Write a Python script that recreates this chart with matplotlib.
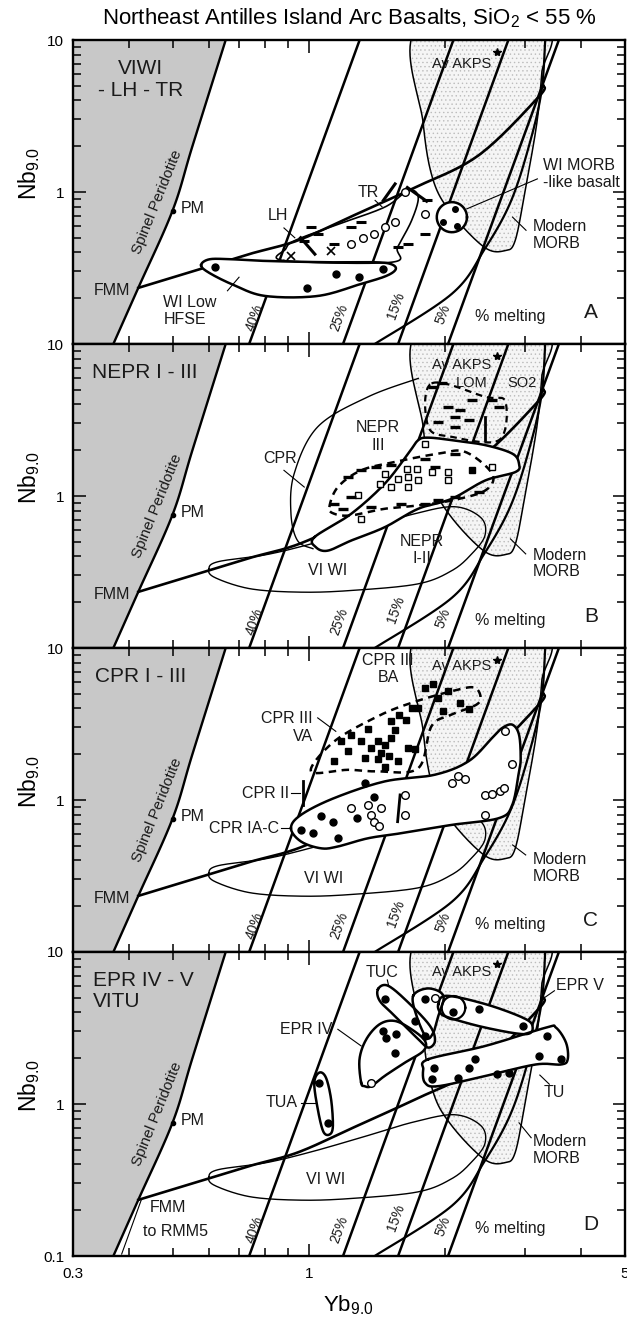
import numpy as np
import matplotlib
matplotlib.use('Agg')
import matplotlib.pyplot as plt

plt.rcParams['font.family'] = ['Liberation Sans', 'DejaVu Sans']
plt.rcParams['mathtext.fontset'] = 'custom'
plt.rcParams['mathtext.rm'] = 'Liberation Sans'
plt.rcParams['mathtext.it'] = 'Liberation Sans'
plt.rcParams['hatch.linewidth'] = 0.5

### Shared model curves (Yb9.0, Nb9.0)
spinel_yb = [0.369, 0.419, 0.499, 0.552, 0.654]
spinel_nb = [0.1, 0.234, 0.755, 2.0, 10.0]
fmm_yb, fmm_nb = 0.419, 0.234
pm_yb, pm_nb = 0.499, 0.755

trend_yb = [0.419, 0.600, 0.743, 0.944, 1.24, 1.69, 2.37, 3.22, 3.30]
trend_nb = [0.234, 0.324, 0.393, 0.480, 0.69, 1.05, 1.74, 4.22, 5.0]

melt_labels = ['40%', '25%', '15%', '5%']
melt_yb_low = [0.737, 1.189, 1.574, 2.03]     # at Nb = 0.1
melt_yb_high = [1.294, 2.086, 2.76, 3.57]     # at Nb = 10
melt_label_yb = [0.756, 1.167, 1.56, 1.982]
melt_label_nb = [0.15, 0.15, 0.178, 0.157]

curve_yb = [1.397, 2.07, 2.445, 2.80, 3.09, 3.27, 3.33]
curve_nb = [0.1, 0.214, 0.42, 0.877, 2.19, 4.68, 10.0]

morb_yb = [1.743, 1.789, 1.883, 2.07, 2.445, 2.71, 2.857, 3.006, 3.19, 3.27, 3.30]
morb_nb = [12.0, 2.82, 1.19, 0.718, 0.432, 0.411, 0.478, 1.02, 2.82, 6.02, 12.0]
akps_yb, akps_nb = 2.60, 8.37

viwi_yb = [0.60, 0.63, 0.80, 1.0, 1.3, 1.7, 2.1, 2.4, 2.45, 2.29, 2.07, 1.74, 1.24, 0.96, 0.743, 0.62]
viwi_nb = [0.331, 0.37, 0.41, 0.48, 0.60, 0.76, 0.85, 0.72, 0.55, 0.416, 0.323, 0.264, 0.239, 0.233, 0.245, 0.29]

### Panel A: VIWI - LH - TR
a_low_yb = [0.577, 0.60, 0.66, 0.80, 1.10, 1.40, 1.52, 1.555, 1.48, 1.30, 1.045, 0.80, 0.68, 0.60]
a_low_nb = [0.33, 0.36, 0.362, 0.352, 0.345, 0.345, 0.335, 0.31, 0.28, 0.248, 0.207, 0.207, 0.245, 0.295]
a_lh_yb = [0.880, 0.888, 0.93, 1.137, 1.470, 1.657, 1.744, 1.686, 1.57, 1.52]
a_lh_nb = [0.354, 0.422, 0.479, 0.601, 0.795, 1.024, 0.925, 0.649, 0.433, 0.345]
a_dots_yb = [0.62, 0.99, 1.146, 1.29, 1.46]
a_dots_nb = [0.32, 0.233, 0.289, 0.275, 0.31]
a_open_yb = [1.239, 1.315, 1.39, 1.47, 1.547, 1.629, 1.805]
a_open_nb = [0.455, 0.50, 0.53, 0.587, 0.633, 1.0, 0.72]
a_cross_yb = [1.117, 0.912]
a_cross_nb = [0.412, 0.382]
a_dash_yb = [0.976, 1.045, 1.137, 1.239, 1.304, 1.57, 1.657, 1.805, 1.82, 1.01]
a_dash_nb = [0.479, 0.53, 0.455, 0.587, 0.633, 0.433, 0.455, 0.53, 0.88, 0.587]
a_bar_yb = [[0.958, 1.03], [1.46, 1.55], [1.65, 1.82]]
a_bar_nb = [[0.50, 0.39], [0.88, 1.13], [1.07, 0.87]]
a_mlb_yb, a_mlb_nb = 2.07, 0.683          # WI MORB-like basalt circle
a_mlb_dots_yb = [2.104, 1.982, 2.12]
a_mlb_dots_nb = [0.775, 0.633, 0.60]

### Panel B: NEPR I - III
b_n12_yb = [1.028, 1.239, 1.470, 1.657, 1.744, 1.836, 2.069, 2.456, 2.816, 2.914, 2.864, 2.456, 2.069, 1.744, 1.470, 1.239, 1.10, 1.036]
b_n12_nb = [0.536, 0.763, 1.204, 1.90, 2.33, 2.42, 2.33, 2.16, 1.90, 1.63, 1.44, 1.267, 0.959, 0.824, 0.623, 0.509, 0.437, 0.46]
b_n3_yb = [1.109, 1.158, 1.304, 1.547, 1.932, 2.216, 2.541, 2.456, 2.069, 1.744, 1.470, 1.239, 1.137]
b_n3_nb = [0.845, 1.145, 1.475, 1.674, 1.90, 1.95, 1.402, 1.089, 0.935, 0.867, 0.824, 0.745, 0.764]
b_lom_yb = [1.866, 2.456, 2.72, 2.631, 2.069, 1.836]
b_lom_nb = [5.50, 4.49, 4.16, 2.33, 2.45, 2.85]
b_cpr_yb = [1.744, 1.350, 1.045, 0.927, 0.912, 0.943, 1.02]
b_cpr_nb = [5.94, 4.49, 2.85, 1.402, 0.764, 0.509, 0.45]
b_sq_yb = [1.282, 1.470, 1.57, 1.657, 1.729, 1.744, 1.643, 1.433, 2.034, 2.034, 2.541, 1.805, 1.304, 1.52, 1.866, 1.657]
b_sq_nb = [1.009, 1.402, 1.30, 1.333, 1.513, 1.267, 1.513, 1.204, 1.44, 1.267, 1.552, 2.21, 0.708, 1.145, 1.44, 1.145]
b_dash_yb = [1.137, 1.187, 1.22, 1.304, 1.408, 1.52, 1.601, 1.805, 1.932, 2.104, 2.374, 1.805, 2.104, 1.899, 1.239, 1.373]
b_dash_nb = [0.889, 0.824, 1.333, 1.475, 1.552, 1.591, 0.889, 0.889, 0.935, 0.984, 1.061, 1.76, 1.90, 1.552, 0.984, 0.845]
b_lomdash_yb = [1.883, 1.965, 2.034, 2.104, 2.254, 2.293, 2.541, 2.631, 2.104, 1.932, 2.16]
b_lomdash_nb = [5.23, 5.50, 3.86, 3.32, 3.15, 4.27, 4.27, 3.86, 2.85, 3.07, 3.67]
b_fsq_yb, b_fsq_nb = 2.293, 1.475
b_bar_yb = [[2.456, 2.456]]
b_bar_nb = [[2.33, 3.32]]

### Panel C: CPR I - III
c_ia_yb = [0.912, 0.960, 1.137, 1.470, 1.899, 2.254, 2.541, 2.676, 2.816, 2.914, 2.939, 2.914, 2.816, 2.631, 2.069, 1.601, 1.350, 1.157, 1.063, 0.960]
c_ia_nb = [0.652, 0.799, 1.03, 1.325, 1.467, 1.80, 2.56, 2.98, 3.13, 2.69, 1.89, 1.543, 0.93, 0.76, 0.686, 0.605, 0.560, 0.494, 0.481, 0.533]
c_iii_yb = [1.01, 1.137, 1.421, 1.686, 2.069, 2.33, 2.374, 2.069, 1.866, 1.744, 1.421, 1.22]
c_iii_nb = [1.543, 2.43, 3.56, 4.36, 5.20, 5.47, 4.36, 3.65, 3.06, 1.62, 1.543, 1.58]
c_d3_yb = [1.178, 1.239, 1.22, 1.137, 1.304, 1.350, 1.373, 1.42, 1.44, 1.47, 1.50, 1.52, 1.547, 1.57, 1.64, 1.657,
           1.714, 1.42, 1.33, 1.47, 1.744, 1.805, 1.88, 1.932, 2.03, 2.16, 2.254, 1.98, 1.686, 1.58, 1.52]
c_d3_nb = [2.43, 2.69, 2.09, 1.80, 2.43, 2.91, 2.2, 2.43, 2.05, 2.31, 1.94, 2.55, 2.89, 1.80, 3.38, 2.2,
           2.15, 1.85, 1.89, 1.66, 4.04, 5.47, 5.76, 4.70, 5.20, 4.36, 3.94, 3.84, 4.04, 3.65, 3.30]
c_d1_yb = [0.960, 1.019, 1.063, 1.128, 1.157, 1.275, 1.33, 1.39]
c_d1_nb = [0.637, 0.605, 0.78, 0.72, 0.56, 0.76, 1.30, 1.05]
c_open_yb = [1.239, 1.350, 1.373, 1.39, 1.43, 1.44, 1.629, 1.629, 2.069, 2.14, 2.216, 2.456, 2.54, 2.65, 2.70, 2.456, 2.816, 2.72]
c_open_nb = [0.88, 0.925, 0.80, 0.72, 0.67, 0.88, 1.08, 0.80, 1.29, 1.44, 1.38, 1.08, 1.09, 1.14, 1.20, 0.80, 1.72, 2.84]
c_bar_yb = [[0.968, 0.968], [1.57, 1.59]]
c_bar_nb = [[0.93, 1.325], [0.72, 1.08]]

### Panel D: EPR IV - V, VITU
d_tua_yb = [1.027, 1.054, 1.09, 1.119, 1.129, 1.11, 1.075, 1.045]
d_tua_nb = [1.38, 1.61, 1.49, 1.07, 0.713, 0.63, 0.66, 0.93]
d_tuc_yb = [1.421, 1.495, 1.657, 1.851, 1.899, 1.836, 1.744, 1.547, 1.433]
d_tuc_nb = [5.70, 6.00, 4.66, 3.27, 2.60, 2.35, 2.67, 3.80, 4.78]
d_e4_yb = [1.304, 1.293, 1.339, 1.433, 1.547, 1.686, 1.805, 1.789, 1.629, 1.470, 1.373, 1.327]
d_e4_nb = [1.38, 1.97, 2.67, 3.35, 3.52, 3.10, 2.60, 2.23, 1.87, 1.53, 1.31, 1.31]
d_up_yb = [1.70, 1.836, 1.982, 1.932, 1.883, 1.819, 1.729]
d_up_nb = [5.15, 5.76, 5.15, 3.80, 2.95, 2.73, 3.80]
d_ring_yb, d_ring_nb = 2.087, 4.3
d_e5_yb = [1.932, 2.016, 2.456, 2.964, 3.12, 3.015, 2.456, 2.034, 1.95]
d_e5_nb = [4.54, 5.15, 4.54, 3.71, 3.27, 2.88, 3.18, 3.71, 4.0]
d_tu_yb = [1.836, 2.456, 3.341, 3.518, 3.703, 3.735, 3.61, 3.174, 2.456, 1.932, 1.805, 1.789]
d_tu_nb = [1.97, 2.41, 3.18, 3.18, 2.53, 1.97, 1.82, 1.82, 1.53, 1.31, 1.38, 1.69]
d_dots_yb = [1.054, 1.10, 1.47, 1.805, 1.714, 1.483, 1.56, 1.547, 1.458, 1.89, 1.87, 2.14, 2.254, 2.33, 2.607,
             2.769, 3.229, 3.369, 3.61, 2.374, 2.98, 2.087, 1.805]
d_dots_nb = [1.38, 0.75, 4.89, 2.82, 3.53, 2.73, 2.88, 2.18, 3.02, 1.73, 1.45, 1.49, 1.73, 1.97, 1.57,
             1.61, 2.06, 2.82, 1.97, 4.20, 3.27, 4.0, 4.89]
d_open_yb = [1.373, 1.899]
d_open_nb = [1.38, 5.0]


### Helpers
def smooth(xs, ys, closed=False, n=20):
    # Catmull-Rom through the points, in log space
    p = np.log10(np.column_stack([xs, ys]))
    if closed:
        p = np.vstack([p[-1], p, p[0], p[1]])
    else:
        p = np.vstack([p[0], p, p[-1]])
    t = np.linspace(0, 1, n, endpoint=False)[:, None]
    segs = []
    for i in range(1, len(p) - 2):
        p0, p1, p2, p3 = p[i - 1], p[i], p[i + 1], p[i + 2]
        segs.append(0.5 * (2 * p1 + (p2 - p0) * t + (2 * p0 - 5 * p1 + 4 * p2 - p3) * t ** 2
                           + (3 * p1 - p0 - 3 * p2 + p3) * t ** 3))
    segs.append(p[-2][None, :])
    q = 10 ** np.vstack(segs)
    return q[:, 0], q[:, 1]


def loop(cx, cy, fx, fy, n=40):
    t = np.linspace(0, 2 * np.pi, n)
    return cx * fx ** np.cos(t), cy * fy ** np.sin(t)


def field(ax, xs, ys, lw=1.8, fill=True, ls='-', z=4):
    sx, sy = smooth(xs, ys, closed=True)
    if fill:
        ax.fill(sx, sy, color='white', lw=0, zorder=z)
    ax.plot(sx, sy, color='k', lw=lw, ls=ls, zorder=z + 0.5)


def lead(ax, xs, ys):
    ax.plot(xs, ys, color='k', lw=0.8, zorder=6)


def txt(ax, x, y, s, size=11.5, **kw):
    kw.setdefault('ha', 'center')
    kw.setdefault('va', 'center')
    ax.text(x, y, s, fontsize=size, color='#1a1a1a', zorder=7, **kw)


def dots(ax, xs, ys, m='o', ms=5, face='k', mew=1.0, z=5):
    ax.plot(xs, ys, ls='none', marker=m, ms=ms, mfc=face, mec='k', mew=mew, zorder=z)


def base(ax, letter, lab_nb, morb_lead, viwi=True):
    ax.set_xscale('log')
    ax.set_yscale('log')
    # spinel peridotite array
    sx, sy = smooth(spinel_yb, spinel_nb)
    ax.fill_betweenx(sy, 0.2, sx, color='#c8c8c8', lw=0, zorder=1)
    ax.plot(sx, sy, color='k', lw=1.7, zorder=3)
    # modern MORB (stippled)
    mx, my = smooth(morb_yb, morb_nb, closed=True)
    ax.fill(mx, my, facecolor='#f5f5f5', edgecolor='#bcbcbc', hatch='....', lw=0, zorder=1.2)
    ax.plot(mx, my, color='k', lw=1.1, zorder=2.5)
    # melting grid
    for lo, hi in zip(melt_yb_low, melt_yb_high):
        ax.plot([lo, hi], [0.1, 10], color='k', lw=1.8, zorder=3)
    for s, x, y in zip(melt_labels, melt_label_yb, melt_label_nb):
        txt(ax, x, y, s, size=10, rotation=70)
    cx, cy = smooth(curve_yb, curve_nb)
    ax.plot(cx, cy, color='k', lw=1.6, zorder=3)
    tx, ty = smooth(trend_yb, trend_nb)
    ax.plot(tx, ty, color='k', lw=1.9, zorder=3)
    if viwi:
        vx, vy = smooth(viwi_yb, viwi_nb, closed=True)
        ax.plot(vx, vy, color='k', lw=1.0, zorder=2.6)
    ax.plot([pm_yb], [pm_nb], 'o', ms=3, color='k', zorder=5)
    txt(ax, 0.52, 0.776, 'PM', ha='left')
    txt(ax, 0.462, 0.86, 'Spinel Peridotite', size=11, rotation=68)
    ax.plot([akps_yb], [akps_nb], marker='*', ms=6, color='k', ls='none', zorder=5)
    txt(ax, 3.12, lab_nb, 'Modern\nMORB', ha='left', linespacing=1.15)
    lead(ax, *morb_lead)
    txt(ax, 2.78, 0.152, '% melting')
    txt(ax, 4.2, 0.162, letter, size=15)

    ax.set_xlim(0.3, 5)
    ax.set_ylim(0.1, 10)
    ax.set_xticks([0.3, 1, 5])
    ax.set_xticks([0.4, 0.5, 0.6, 0.7, 0.8, 0.9, 2, 3, 4], minor=True)
    ax.set_yticks([0.1, 1, 10])
    ax.set_yticks([0.2, 0.3, 0.4, 0.5, 0.6, 0.7, 0.8, 0.9, 2, 3, 4, 5, 6, 7, 8, 9], minor=True)
    ax.set_xticklabels(['', '', ''])
    ax.set_xticklabels([], minor=True)
    ax.set_yticklabels(['', '1', '10'])
    ax.set_yticklabels([], minor=True)
    ax.tick_params(which='both', direction='in', top=True, right=True, width=1.1,
                   labelsize=11, pad=6)
    ax.tick_params(which='major', length=9)
    ax.tick_params(which='minor', length=6)
    for sp in ax.spines.values():
        sp.set_linewidth(1.7)
    ax.text(-0.079, 0.56, 'Nb$_{9.0}$', transform=ax.transAxes, rotation=90,
            ha='center', va='center', fontsize=16.5)


fig = plt.figure(figsize=(6.27, 13.22), dpi=100)
axes = []
for k in range(4):
    top = 40 + 304 * k
    axes.append(fig.add_axes([72.7 / 627, 1 - (top + 304) / 1322, 552.3 / 627, 304 / 1322]))
axA, axB, axC, axD = axes

fig.text(0.5566, 1 - 18 / 1322, 'Northeast Antilles Island Arc Basalts, SiO$_2$ < 55 %',
         ha='center', va='center', fontsize=16)

# ---- Panel A
base(axA, 'A', 0.52, ([2.82, 3.02], [0.683, 0.56]), viwi=False)
txt(axA, 0.403, 0.224, 'FMM', ha='right')
txt(axA, 0.424, 5.5, 'VIWI\n- LH - TR', size=15, linespacing=1.15)
field(axA, a_lh_yb, a_lh_nb, lw=1.2, fill=False)
field(axA, a_low_yb, a_low_nb)
mx, my = loop(a_mlb_yb, a_mlb_nb, 1.08, 1.256)
axA.fill(mx, my, color='white', lw=0, zorder=4)
axA.plot(mx, my, color='k', lw=1.8, zorder=4.5)
dots(axA, a_dots_yb, a_dots_nb)
dots(axA, a_mlb_dots_yb, a_mlb_dots_nb, ms=4)
dots(axA, a_open_yb, a_open_nb, face='white', ms=5.5)
dots(axA, a_cross_yb, a_cross_nb, m='x', ms=6, mew=1.2)
dots(axA, a_dash_yb, a_dash_nb, m='_', ms=7, mew=2.2)
for xs, ys in zip(a_bar_yb, a_bar_nb):
    axA.plot(xs, ys, color='k', lw=2.2, zorder=5)
txt(axA, 0.852, 0.70, 'LH')
lead(axA, [0.88, 0.93], [0.58, 0.50])
txt(axA, 1.35, 0.99, 'TR')
lead(axA, [1.40, 1.45], [0.88, 0.80])
txt(axA, 0.476, 0.165, 'WI Low\nHFSE', ha='left', linespacing=1.15)
lead(axA, [0.66, 0.70], [0.224, 0.275])
txt(axA, 3.3, 1.32, 'WI MORB\n-like basalt', ha='left', linespacing=1.15)
lead(axA, [2.235, 3.2], [0.775, 1.22])
txt(axA, 2.17, 7.0, 'Av AKPS', size=10.5)

# ---- Panel B
base(axB, 'B', 0.36, ([2.79, 3.015], [0.522, 0.416]))
txt(axB, 0.403, 0.224, 'FMM', ha='right')
txt(axB, 0.432, 6.5, 'NEPR I - III', size=15)
cx, cy = smooth(b_cpr_yb, b_cpr_nb)
axB.plot(cx, cy, color='k', lw=1.0, zorder=2.6)
field(axB, b_n12_yb, b_n12_nb)
field(axB, b_n3_yb, b_n3_nb, lw=1.8, fill=False, ls=(0, (3, 2.2)), z=4.2)
field(axB, b_lom_yb, b_lom_nb, lw=1.6, fill=False, ls=(0, (3, 2.2)), z=4.2)
dots(axB, b_sq_yb, b_sq_nb, m='s', face='white', ms=5)
dots(axB, b_dash_yb, b_dash_nb, m='_', ms=7, mew=2.4)
dots(axB, b_lomdash_yb, b_lomdash_nb, m='_', ms=7, mew=2.4)
dots(axB, [b_fsq_yb], [b_fsq_nb], m='s', ms=5)
for xs, ys in zip(b_bar_yb, b_bar_nb):
    axB.plot(xs, ys, color='k', lw=2.0, zorder=5)
txt(axB, 0.864, 1.76, 'CPR')
lead(axB, [0.88, 0.976], [1.475, 1.145])
txt(axB, 1.42, 2.45, 'NEPR\nIII', linespacing=1.25)
txt(axB, 1.774, 0.44, 'NEPR\nI-II', linespacing=1.15)
txt(axB, 1.10, 0.323, 'VI WI')
txt(axB, 2.18, 7.27, 'Av AKPS', size=10.5)
txt(axB, 2.29, 5.5, 'LOM', size=10.5)
txt(axB, 2.96, 5.5, 'SO2', size=10.5)

# ---- Panel C
base(axC, 'C', 0.355, ([2.82, 3.015], [0.506, 0.435]))
txt(axC, 0.403, 0.224, 'FMM', ha='right')
txt(axC, 0.425, 6.5, 'CPR I - III', size=15)
field(axC, c_ia_yb, c_ia_nb)
field(axC, c_iii_yb, c_iii_nb, lw=1.8, fill=False, ls=(0, (3, 2.2)), z=4.2)
dots(axC, c_d3_yb, c_d3_nb, m='s', ms=4.5)
dots(axC, c_d1_yb, c_d1_nb)
dots(axC, c_open_yb, c_open_nb, face='white', ms=5.5)
for xs, ys in zip(c_bar_yb, c_bar_nb):
    axC.plot(xs, ys, color='k', lw=2.0, zorder=5)
txt(axC, 1.495, 7.3, 'CPR III\nBA', linespacing=1.2)
txt(axC, 1.02, 3.0, 'CPR III\nVA', ha='right', linespacing=1.2, multialignment='right')
lead(axC, [1.045, 1.146], [3.47, 2.83])
txt(axC, 0.903, 1.11, 'CPR II', ha='right')
lead(axC, [0.91, 0.955], [1.11, 1.11])
txt(axC, 0.857, 0.652, 'CPR IA-C', ha='right')
lead(axC, [0.865, 0.905], [0.652, 0.652])
txt(axC, 1.075, 0.305, 'VI WI')
txt(axC, 2.18, 7.6, 'Av AKPS', size=10.5)

# ---- Panel D
base(axD, 'D', 0.50, ([2.914, 3.10], [0.752, 0.60]))
txt(axD, 0.333, 5.55, 'EPR IV - V\nVITU', size=15, ha='left', linespacing=1.15)
txt(axD, 0.445, 0.207, 'FMM', ha='left')
txt(axD, 0.43, 0.145, 'to RMM5', ha='left')
axD.plot([0.425, 0.385], [0.232, 0.103], color='k', lw=0.8, zorder=3)
d_fields = [(d_e4_yb, d_e4_nb), (d_tua_yb, d_tua_nb), (d_up_yb, d_up_nb), (d_e5_yb, d_e5_nb),
            (d_tuc_yb, d_tuc_nb), (d_tu_yb, d_tu_nb)]
for xs, ys in d_fields:
    sx, sy = smooth(xs, ys, closed=True)
    axD.fill(sx, sy, color='white', lw=0, zorder=4)
for xs, ys in d_fields:
    sx, sy = smooth(xs, ys, closed=True)
    axD.plot(sx, sy, color='k', lw=1.8, zorder=4.5)
rx, ry = loop(d_ring_yb, d_ring_nb, 1.062, 1.194)
axD.plot(rx, ry, color='k', lw=1.6, zorder=4.6)
dots(axD, d_dots_yb, d_dots_nb)
dots(axD, d_open_yb, d_open_nb, face='white', ms=5.5)
txt(axD, 1.45, 7.34, 'TUC')
lead(axD, [1.49, 1.50], [6.55, 6.0])
txt(axD, 2.18, 7.34, 'Av AKPS', size=10.5)
txt(axD, 3.52, 6.0, 'EPR V', ha='left')
lead(axD, [3.49, 3.28], [5.56, 4.89])
txt(axD, 1.128, 3.10, 'EPR IV', ha='right')
lead(axD, [1.158, 1.304], [3.10, 2.41])
txt(axD, 0.944, 1.02, 'TUA', ha='right')
lead(axD, [0.96, 1.036], [1.02, 1.02])
txt(axD, 3.49, 1.19, 'TU')
lead(axD, [3.40, 3.24], [1.35, 1.55])
txt(axD, 1.09, 0.318, 'VI WI')
axD.set_xticklabels(['0.3', '1', '5'])
axD.set_yticklabels(['0.1', '1', '10'])
axD.tick_params(axis='x', pad=8)

fig.text(348 / 627, 1 - 1305 / 1322, 'Yb$_{9.0}$', ha='center', va='center', fontsize=16)

fig.savefig('out.png', dpi=100)
